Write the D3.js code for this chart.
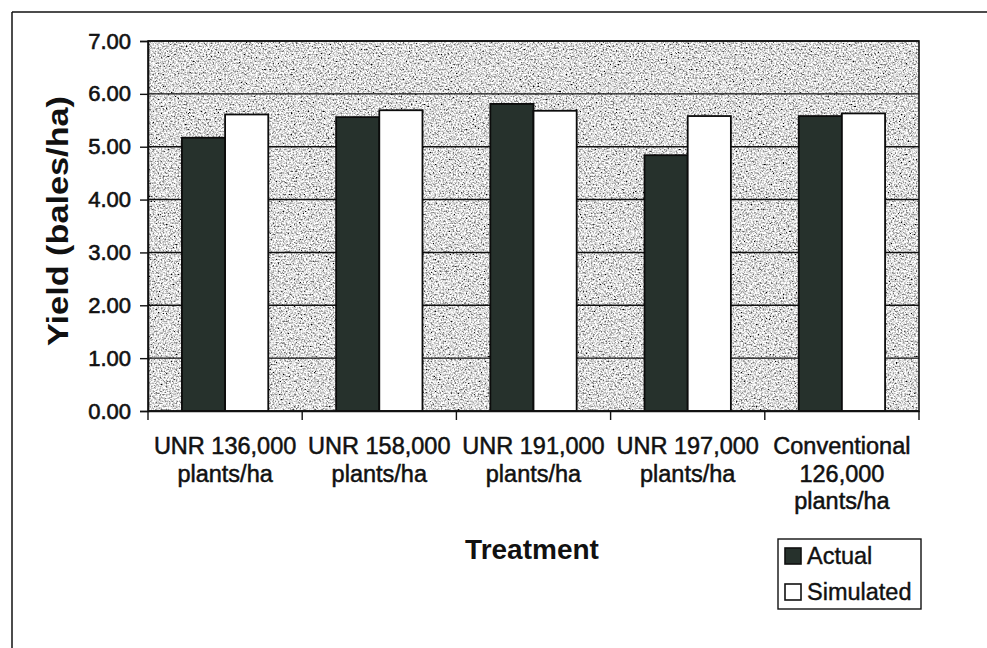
<!DOCTYPE html>
<html><head><meta charset="utf-8">
<script src="https://cdn.jsdelivr.net/npm/d3@7"></script>
<style>
html,body{margin:0;padding:0;background:#fff;}
svg{display:block;font-family:"Liberation Sans",Arial,sans-serif;}
</style></head>
<body><svg id="c" width="987" height="648"></svg>
<script>
const categories = [
  ["UNR 136,000","plants/ha"],
  ["UNR 158,000","plants/ha"],
  ["UNR 191,000","plants/ha"],
  ["UNR 197,000","plants/ha"],
  ["Conventional","126,000","plants/ha"]
];
const seriesNames = ["Actual","Simulated"];
const actual = [5.17, 5.56, 5.81, 4.84, 5.58];
const simulated = [5.61, 5.69, 5.68, 5.58, 5.63];
const yTicks = [0,1,2,3,4,5,6,7];
const colors = {Actual:"#26312c", Simulated:"#ffffff"};

const svg = d3.select("#c");
const W=987,H=648;
const m={left:148,right:W-919,top:41,bottom:H-411};
const iw=W-m.left-m.right, ih=H-m.top-m.bottom;
const ink="#111";

// frame (top and left only)
svg.append("line").attr("x1",12).attr("x2",W).attr("y1",12).attr("y2",12).attr("stroke",ink).attr("stroke-width",1.5);
svg.append("line").attr("x1",12).attr("x2",12).attr("y1",12).attr("y2",H).attr("stroke",ink).attr("stroke-width",1.5);

const defs=svg.append("defs");
const f=defs.append("filter").attr("id","speck").attr("x",0).attr("y",0).attr("width","100%").attr("height","100%");
f.append("feTurbulence").attr("type","fractalNoise").attr("baseFrequency",0.6).attr("numOctaves",2).attr("seed",7).attr("result","t");
f.append("feColorMatrix").attr("in","t").attr("type","matrix")
 .attr("values","2.4 0 0 0 -0.48  2.4 0 0 0 -0.48  2.4 0 0 0 -0.48  0 0 0 0 1");

const g=svg.append("g").attr("transform",`translate(${m.left},${m.top})`);
const x=d3.scaleBand().domain(d3.range(categories.length)).range([0,iw]).paddingInner(0.44).paddingOuter(0.22);
const xb=d3.scaleBand().domain(d3.range(categories.length)).range([0,iw]);
const x1=d3.scaleBand().domain(seriesNames).range([0,x.bandwidth()]);
const y=d3.scaleLinear().domain([0,7]).range([ih,0]);

g.append("rect").attr("width",iw).attr("height",ih).attr("fill","#b4b4b4").attr("filter","url(#speck)");

// gridlines
g.append("g").selectAll("line").data(yTicks).join("line")
 .attr("x1",0).attr("x2",iw).attr("y1",d=>y(d)).attr("y2",d=>y(d))
 .attr("stroke",ink).attr("stroke-width",1.4);

const data=[actual,simulated];
const grp=g.append("g").selectAll("g").data(categories).join("g")
 .attr("transform",(d,i)=>`translate(${x(i)},0)`);
grp.selectAll("rect").data((d,i)=>seriesNames.map((s,k)=>({s,v:data[k][i]}))).join("rect")
 .attr("x",d=>x1(d.s)).attr("width",x1.bandwidth())
 .attr("y",d=>y(d.v)).attr("height",d=>ih-y(d.v))
 .attr("fill",d=>colors[d.s]).attr("stroke","#0c0c0c").attr("stroke-width",1.8);

g.append("rect").attr("width",iw).attr("height",ih).attr("fill","none").attr("stroke",ink).attr("stroke-width",1.6);

// y axis
const ya=g.append("g").call(d3.axisLeft(y).tickValues(yTicks).tickFormat(d3.format(".2f")).tickSize(8).tickPadding(9));
ya.select(".domain").attr("stroke",ink).attr("stroke-width",1.6);
ya.selectAll(".tick line").attr("stroke",ink).attr("stroke-width",1.4);
ya.selectAll("text").attr("font-size",22).attr("fill",ink).attr("stroke",ink).attr("stroke-width",0.6)
 .attr("font-family","Liberation Sans,Arial,sans-serif");

// x axis
const xa=g.append("g").attr("transform",`translate(0,${ih})`)
 .call(d3.axisBottom(xb).tickSize(0).tickFormat(""));
xa.select(".domain").attr("stroke",ink).attr("stroke-width",1.6);
g.append("g").attr("transform",`translate(0,${ih})`).selectAll("line")
 .data(d3.range(categories.length+1)).join("line")
 .attr("x1",i=>i*xb.step()).attr("x2",i=>i*xb.step()).attr("y1",0).attr("y2",9)
 .attr("stroke",ink).attr("stroke-width",1.4);
const lab=g.append("g").selectAll("text").data(categories).join("text")
 .attr("x",(d,i)=>xb(i)+xb.bandwidth()/2).attr("y",ih+43)
 .attr("text-anchor","middle").attr("font-size",23.5).attr("fill",ink).attr("stroke",ink).attr("stroke-width",0.5);
lab.selectAll("tspan").data(d=>d).join("tspan")
 .attr("x",function(){return this.parentNode.getAttribute("x");})
 .attr("dy",(d,i)=>i===0?0:27.5).text(d=>d);

// titles
svg.append("text").attr("x",532).attr("y",559).attr("text-anchor","middle")
 .attr("font-size",28).attr("font-weight","bold").attr("fill",ink).text("Treatment");
svg.append("text").attr("transform","translate(68,221) rotate(-90)").attr("text-anchor","middle")
 .attr("font-size",29).attr("font-weight","bold").attr("fill",ink)
 .attr("textLength",250).attr("lengthAdjust","spacingAndGlyphs").text("Yield (bales/ha)");

// legend
const lg=svg.append("g").attr("transform","translate(778,539)");
lg.append("rect").attr("width",143).attr("height",70).attr("fill","#fff").attr("stroke",ink).attr("stroke-width",1.4);
const li=lg.selectAll("g").data(seriesNames).join("g").attr("transform",(d,i)=>`translate(7,${9+i*36})`);
li.append("rect").attr("width",16).attr("height",16).attr("fill",d=>colors[d]).attr("stroke",ink).attr("stroke-width",1.6);
li.append("text").attr("x",22).attr("y",16).attr("font-size",23.5).attr("fill",ink).attr("stroke",ink).attr("stroke-width",0.4).text(d=>d);
</script></body></html>
